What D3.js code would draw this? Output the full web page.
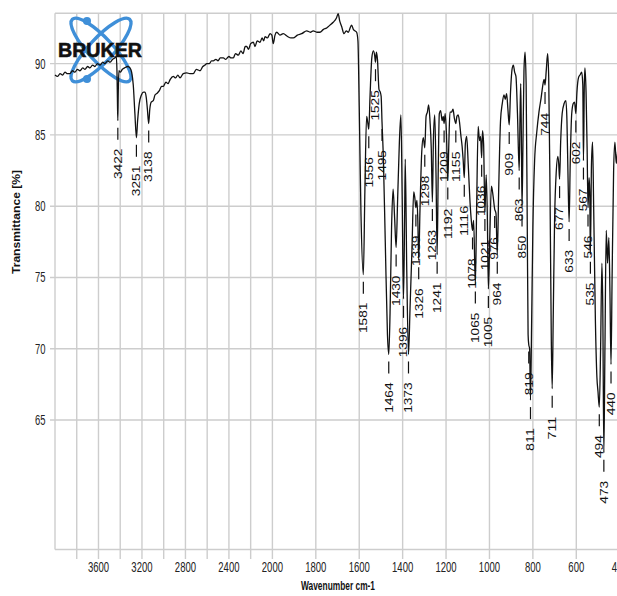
<!DOCTYPE html>
<html>
<head>
<meta charset="utf-8">
<script src="https://cdn.jsdelivr.net/npm/d3@7"></script>
<style>
  body { margin: 0; background: #fff; }
  svg { display: block; }
</style>
</head>
<body>
<svg id="chart" width="617" height="596"></svg>
<script>
// IR spectrum (wavenumber in cm-1, transmittance in %), ordered from 4000 down to 400
const spectrumWavenumber = [
  4000, 3975, 3954, 3930, 3908, 3885, 3862, 3840, 3816, 3795, 3770, 3745, 3724, 3700, 3678, 3655,
  3632, 3610, 3586, 3560, 3540, 3515, 3494, 3470, 3450, 3436, 3430, 3426, 3422, 3418, 3412, 3400,
  3380, 3360, 3330, 3310, 3295, 3280, 3265, 3251, 3240, 3225, 3205, 3185, 3172, 3160, 3150, 3138,
  3128, 3115, 3096, 3080, 3064, 3040, 3020, 3004, 2980, 2960, 2940, 2912, 2890, 2870, 2850, 2820,
  2788, 2760, 2728, 2700, 2666, 2640, 2620, 2604, 2580, 2560, 2543, 2520, 2500, 2480, 2451, 2430,
  2400, 2380, 2359, 2340, 2313, 2290, 2270, 2250, 2236, 2220, 2200, 2175, 2160, 2140, 2114, 2095,
  2080, 2068, 2045, 2022, 2005, 1996, 1988, 1980, 1965, 1950, 1930, 1915, 1904, 1885, 1865, 1842,
  1825, 1812, 1795, 1781, 1765, 1750, 1735, 1720, 1705, 1697, 1690, 1681, 1670, 1660, 1650, 1642,
  1635, 1627, 1620, 1612, 1606, 1600, 1592,
  1581, 1574, 1566, 1561, 1556, 1550, 1542, 1535, 1529, 1525, 1521, 1516, 1509, 1503, 1499, 1495,
  1489, 1480, 1470, 1464, 1458, 1451, 1444, 1437, 1430, 1423, 1415, 1408, 1402, 1396, 1391, 1388,
  1381, 1373, 1366, 1357, 1349, 1344, 1339, 1334, 1330, 1326, 1320, 1312, 1305, 1298, 1292, 1286,
  1280, 1274, 1268, 1263, 1258, 1252, 1246, 1241, 1236, 1231, 1225, 1218, 1213, 1209, 1204, 1198,
  1192, 1187, 1182, 1175, 1168, 1162, 1155, 1150, 1144, 1138, 1132, 1126, 1121, 1116, 1111, 1105,
  1098, 1090, 1083, 1078, 1073, 1065, 1059, 1052, 1046, 1041, 1036, 1032, 1027, 1021, 1015, 1010,
  1005, 999, 991, 984, 976, 970, 964, 957, 949, 941, 933, 927, 921, 915, 909, 903,
  896, 890, 884, 878, 871, 863, 859, 856, 853, 850, 846, 841, 836, 831, 826, 822,
  819, 815, 811, 806, 800, 792, 782, 772, 762, 753, 748, 744, 738, 732, 727, 721,
  715, 711, 706, 700, 692, 685, 681, 677, 672, 665, 656, 648, 643, 638, 633, 628,
  621, 614, 608, 602, 597, 590, 583, 575, 570, 567, 563, 560, 555, 550, 546, 541,
  538, 535, 530, 525, 520, 512, 505, 500, 494, 488, 482, 478, 473, 468, 462, 456,
  450, 445, 440, 435, 428, 422, 416, 412, 405, 400
];
const spectrumTransmittance = [
  89.2, 89.1, 89.3, 89.2, 89.4, 89.3, 89.3, 89.5, 89.4, 89.6, 89.5, 89.7, 89.6, 89.8, 89.7, 89.9,
  89.8, 90.0, 89.9, 90.1, 90.0, 90.2, 90.1, 90.3, 90.4, 90.5, 89.5, 87.6, 86.0, 88.0, 89.5, 89.4,
  89.6, 89.7, 89.8, 89.7, 89.4, 88.5, 86.5, 84.8, 86.0, 87.2, 87.8, 88.0, 88.0, 87.6, 86.8, 85.8,
  86.8, 87.3, 87.4, 87.8, 87.9, 88.1, 88.4, 88.4, 88.7, 88.6, 88.9, 89.1, 89.0, 89.2, 89.0, 89.3,
  89.35, 89.3, 89.3, 89.6, 89.5, 89.8, 89.9, 90.0, 90.0, 90.2, 90.2, 90.3, 90.2, 90.4, 90.4, 90.3,
  90.5, 90.4, 90.4, 90.7, 90.6, 90.9, 90.7, 91.2, 91.2, 91.0, 91.4, 91.5, 91.2, 91.6, 91.5, 91.8,
  91.6, 91.9, 91.8, 92.1, 92.0, 91.4, 92.0, 92.2, 92.0, 92.1, 91.9, 91.8, 91.8, 92.0, 92.1, 92.3,
  92.2, 92.3, 92.2, 92.2, 92.4, 92.5, 92.7, 92.9, 93.2, 93.5, 93.0, 92.6, 92.1, 92.3, 92.2, 92.5,
  92.7, 92.4, 92.3, 92.2, 91.6, 87.0, 79.5,
  75.2, 81.0, 86.3, 85.9, 85.4, 87.8, 90.4, 90.9, 90.6, 90.1, 90.8, 90.3, 88.2, 88.0, 87.7, 85.9,
  83.5, 77.5, 71.0, 69.6, 72.5, 78.5, 81.2, 79.2, 77.1, 80.5, 84.5, 86.4, 80.5, 73.5, 79.0, 83.3,
  75.5, 69.6, 72.8, 77.0, 81.0, 80.6, 79.9, 80.4, 79.0, 76.2, 79.8, 83.8, 84.8, 84.1, 86.3, 86.6,
  87.1, 86.0, 84.0, 80.3, 84.8, 86.4, 82.0, 76.6, 82.5, 86.5, 86.7, 86.0, 86.3, 85.8, 86.5, 85.0,
  81.8, 84.5, 86.6, 86.6, 86.8, 86.2, 85.8, 86.3, 86.4, 85.9, 85.0, 84.2, 83.2, 82.0, 84.4, 84.9,
  83.0, 80.4, 78.9, 78.3, 79.0, 74.5, 80.0, 85.6, 84.6, 84.9, 83.4, 85.3, 84.4, 79.6, 82.2, 79.5,
  74.2, 77.5, 81.4, 80.8, 79.8, 79.5, 76.6, 81.5, 86.0, 87.2, 87.8, 87.5, 87.9, 86.8, 85.7, 88.0,
  89.6, 89.9, 89.4, 89.1, 86.5, 82.5, 86.5, 88.6, 85.0, 79.9, 84.0, 89.5, 90.8, 88.5, 79.0, 71.0,
  70.3, 70.0, 66.4, 71.5, 78.5, 83.2, 85.2, 86.6, 87.6, 88.6, 88.9, 88.5, 89.6, 90.7, 89.0, 81.0,
  70.5, 67.2, 72.5, 79.0, 82.5, 83.5, 83.0, 81.9, 84.5, 86.5, 87.2, 87.4, 86.0, 82.0, 78.9, 83.0,
  86.5, 87.2, 87.3, 86.5, 88.0, 89.0, 89.2, 89.4, 88.5, 83.2, 88.5, 89.7, 88.0, 84.0, 79.9, 82.0,
  81.0, 76.6, 83.0, 84.5, 80.0, 72.0, 68.0, 67.0, 65.9, 70.0, 76.0, 73.0, 62.7, 70.0, 78.3, 76.0,
  77.8, 74.0, 68.9, 75.0, 82.5, 84.5, 83.0, 83.5, 84.5, 85.0
];

// Picked peaks (cm-1)
const peakWavenumbers = [
  3422, 3251, 3138, 1581, 1556, 1525, 1495, 1464, 1430, 1396, 1373, 1339, 1326, 1298, 1263, 1241,
  1209, 1192, 1155, 1116, 1078, 1065, 1036, 1021, 1005, 976, 964, 909, 863, 850, 819, 811,
  744, 711, 677, 633, 602, 567, 546, 535, 494, 473, 440
];

const xGridValues = [3800, 3600, 3400, 3200, 3000, 2800, 2600, 2400, 2200, 2000,
  1800, 1600, 1400, 1200, 1000, 800, 600, 400];
const xTickLabels = [3600, 3200, 2800, 2400, 2000, 1800, 1600, 1400, 1200, 1000, 800, 600, 400];
const yTickValues = [65, 70, 75, 80, 85, 90];

const svg = d3.select("#chart");
const plotLeft = 55, plotTop = 13.3, plotBottom = 549.5, plotRight = 619.7;

// Wavenumber axis: 4000-2000 drawn at half the scale of 2000-400
const x = d3.scaleLinear().domain([4000, 2000, 400]).range([plotLeft, 272.4, plotRight]);
const y = d3.scaleLinear().domain([55.92, 93.53]).range([plotBottom, plotTop]);

const gridColor = "#cdcdcd";
const labelFont = "'Liberation Sans', Arial, sans-serif";

// Grid
const grid = svg.append("g").attr("stroke", gridColor).attr("stroke-width", 1.4);
grid.selectAll("line.v").data(xGridValues).join("line")
  .attr("class", "v")
  .attr("x1", d => x(d)).attr("x2", d => x(d))
  .attr("y1", plotTop).attr("y2", plotBottom + 9.5);
grid.selectAll("line.h").data(yTickValues).join("line")
  .attr("class", "h")
  .attr("x1", plotLeft - 5).attr("x2", 617)
  .attr("y1", d => y(d)).attr("y2", d => y(d));
// Frame
grid.append("line").attr("x1", plotLeft).attr("x2", 617).attr("y1", plotTop).attr("y2", plotTop);
grid.append("line").attr("x1", plotLeft).attr("x2", 617).attr("y1", plotBottom).attr("y2", plotBottom);
grid.append("line").attr("x1", plotLeft).attr("x2", plotLeft).attr("y1", plotTop).attr("y2", plotBottom);

// Tick labels
svg.append("g").selectAll("text").data(xTickLabels).join("text")
  .attr("x", d => x(d)).attr("y", 572)
  .attr("text-anchor", "middle")
  .attr("font-family", labelFont).attr("font-size", 14.5).attr("fill", "#222")
  .attr("textLength", d => String(d).length * 5.3).attr("lengthAdjust", "spacingAndGlyphs")
  .text(d => d);

svg.append("g").selectAll("text").data(yTickValues).join("text")
  .attr("x", 45.5).attr("y", d => y(d) + 5)
  .attr("text-anchor", "end")
  .attr("font-family", labelFont).attr("font-size", 14.5).attr("fill", "#222")
  .attr("textLength", 10.5).attr("lengthAdjust", "spacingAndGlyphs")
  .text(d => d);

// Axis titles
svg.append("text")
  .attr("x", 338).attr("y", 590).attr("text-anchor", "middle")
  .attr("font-family", labelFont).attr("font-size", 13).attr("font-weight", "bold").attr("fill", "#111")
  .attr("textLength", 74).attr("lengthAdjust", "spacingAndGlyphs")
  .text("Wavenumber cm-1");
svg.append("text")
  .attr("transform", "translate(20,222) rotate(-90)")
  .attr("text-anchor", "middle")
  .attr("font-family", labelFont).attr("font-size", 11.5).attr("font-weight", "bold").attr("fill", "#111")
  .attr("textLength", 104).attr("lengthAdjust", "spacingAndGlyphs")
  .text("Transmittance [%]");

// Logo
const logo = svg.append("g");
const blue = "#3f8fd8";
[47, -47].forEach(a => {
  logo.append("ellipse")
    .attr("cx", 0).attr("cy", 0).attr("rx", 42).attr("ry", 12)
    .attr("transform", `translate(101,50) rotate(${a})`)
    .attr("fill", "none").attr("stroke", blue).attr("stroke-width", 3.4);
});
logo.append("circle").attr("cx", 87).attr("cy", 21).attr("r", 4).attr("fill", blue);
logo.append("circle").attr("cx", 87).attr("cy", 79).attr("r", 4).attr("fill", blue);
logo.append("text")
  .attr("x", 58).attr("y", 56.5)
  .attr("font-family", labelFont).attr("font-size", 20).attr("font-weight", "bold").attr("fill", "#111")
  .attr("stroke", "#111").attr("stroke-width", 0.6)
  .attr("textLength", 84).attr("lengthAdjust", "spacingAndGlyphs")
  .text("BRUKER");

// Spectrum
const points = spectrumWavenumber.map((w, i) => [w, spectrumTransmittance[i]]);
const line = d3.line().x(d => x(d[0])).y(d => y(d[1])).curve(d3.curveMonotoneX);
svg.append("path")
  .datum(points)
  .attr("d", line)
  .attr("fill", "none").attr("stroke", "#111").attr("stroke-width", 1.3)
  .attr("stroke-linejoin", "round");

// Peak labels under each picked minimum
const peaks = peakWavenumbers.map(w => ({ w, t: spectrumTransmittance[spectrumWavenumber.indexOf(w)] }));
const pl = svg.append("g");
peaks.forEach(p => {
  const px = x(p.w), py = y(p.t);
  pl.append("line")
    .attr("x1", px).attr("x2", px).attr("y1", py + 7).attr("y2", py + 19)
    .attr("stroke", "#111").attr("stroke-width", 1.2);
  const s = String(p.w);
  pl.append("text")
    .attr("transform", `translate(${px + 3.8},${py + 28}) rotate(-90)`)
    .attr("text-anchor", "end")
    .attr("font-family", labelFont).attr("font-size", 11).attr("fill", "#111")
    .attr("textLength", s.length * 7.6).attr("lengthAdjust", "spacingAndGlyphs")
    .text(s);
});
</script>
</body>
</html>
